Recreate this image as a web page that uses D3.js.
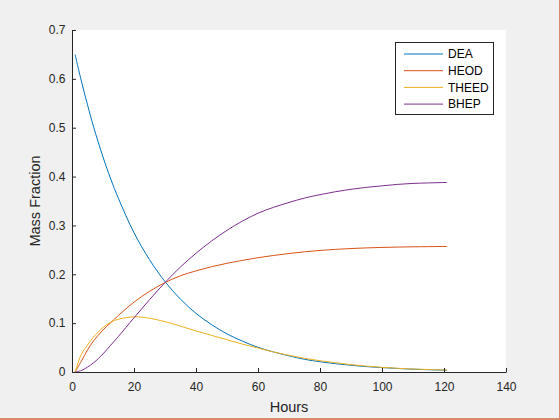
<!DOCTYPE html>
<html>
<head>
<meta charset="utf-8">
<script src="https://cdn.jsdelivr.net/npm/d3@7"></script>
<style>
    body { margin: 0; background: #f0f0f0; }
    svg { display: block; font-family: "Liberation Sans", Arial, sans-serif; }
</style>
</head>
<body>
<div id="svg-container"></div>
<script>
const w = 560;
const h = 420;
const margin = { top: 30, right: 54, bottom: 48, left: 72 };

const hours = [1, 3, 5, 7, 10, 12.5, 15, 20, 25, 30, 35, 40, 45, 50, 55, 60, 65, 70, 75, 80, 85, 90, 95, 100, 105, 110, 115, 121];
const dea   = [0.650, 0.596, 0.547, 0.501, 0.440, 0.395, 0.355, 0.285, 0.230, 0.185, 0.149, 0.120, 0.097, 0.078, 0.063, 0.0505, 0.041, 0.033, 0.026, 0.021, 0.017, 0.0138, 0.011, 0.009, 0.0072, 0.0058, 0.0047, 0.0036];
const heod  = [0, 0.022, 0.045, 0.064, 0.086, 0.101, 0.116, 0.143, 0.165, 0.183, 0.197, 0.207, 0.2155, 0.2225, 0.2285, 0.234, 0.2385, 0.2425, 0.246, 0.2488, 0.251, 0.2527, 0.254, 0.255, 0.2557, 0.2562, 0.2566, 0.257];
const theed = [0, 0.036, 0.055, 0.072, 0.091, 0.102, 0.108, 0.113, 0.110, 0.103, 0.094, 0.084, 0.075, 0.066, 0.057, 0.049, 0.041, 0.034, 0.028, 0.023, 0.019, 0.015, 0.012, 0.0095, 0.0076, 0.0061, 0.005, 0.004];
const bhep  = [0, 0.003, 0.010, 0.019, 0.037, 0.055, 0.073, 0.111, 0.148, 0.183, 0.215, 0.243, 0.268, 0.290, 0.309, 0.325, 0.337, 0.347, 0.356, 0.363, 0.369, 0.374, 0.378, 0.381, 0.384, 0.386, 0.387, 0.388];

const seriesNames = ["DEA", "HEOD", "THEED", "BHEP"];
const seriesColors = ["#0072bd", "#d95319", "#edb120", "#7e2f8e"];
const xTicks = [0, 20, 40, 60, 80, 100, 120, 140];
const yTicks = [0, 0.1, 0.2, 0.3, 0.4, 0.5, 0.6, 0.7];

const allSeries = [dea, heod, theed, bhep];

const svg = d3.select("#svg-container")
    .append("svg")
    .attr("width", w)
    .attr("height", h);

svg.append("rect")
    .attr("width", w).attr("height", h)
    .attr("fill", "#f0f0f0");

const x = d3.scaleLinear().domain([0, 140]).range([margin.left, w - margin.right]);
const y = d3.scaleLinear().domain([0, 0.7]).range([h - margin.bottom, margin.top]);

// white plot area
svg.append("rect")
    .attr("x", x(0)).attr("y", y(0.7))
    .attr("width", x(140) - x(0))
    .attr("height", y(0) - y(0.7))
    .attr("fill", "white");

// curves
const line = d3.line()
    .x(function (d) { return x(d[0]); })
    .y(function (d) { return y(d[1]); })
    .curve(d3.curveCatmullRom.alpha(0.5));

allSeries.forEach(function (vals, i) {
    svg.append("path")
        .datum(hours.map(function (t, j) { return [t, vals[j]]; }))
        .attr("d", line)
        .attr("fill", "none")
        .attr("stroke", seriesColors[i])
        .attr("stroke-width", 1);
});

// axes (ticks point inward)
const xAxis = svg.append("g")
    .attr("transform", "translate(0," + y(0) + ")")
    .call(d3.axisBottom(x).tickValues(xTicks).tickSize(-4).tickSizeOuter(0).tickPadding(10.5));

const yAxis = svg.append("g")
    .attr("transform", "translate(" + x(0) + ",0)")
    .call(d3.axisLeft(y).tickValues(yTicks).tickFormat(d3.format("~g")).tickSize(-4).tickSizeOuter(0).tickPadding(6.5));

[xAxis, yAxis].forEach(function (g) {
    g.selectAll("path, line").attr("stroke", "#262626");
    g.selectAll("text")
        .attr("fill", "#262626")
        .attr("font-size", "12px")
        .attr("font-family", "Liberation Sans, Arial, sans-serif");
});

// axis titles
svg.append("text")
    .attr("x", (x(0) + x(140)) / 2)
    .attr("y", 412)
    .attr("text-anchor", "middle")
    .attr("font-size", "14.5px")
    .attr("fill", "#262626")
    .text("Hours");

svg.append("text")
    .attr("transform", "translate(40," + (y(0) + y(0.7)) / 2 + ") rotate(-90)")
    .attr("text-anchor", "middle")
    .attr("font-size", "14.5px")
    .attr("fill", "#262626")
    .text("Mass Fraction");

// legend
const legend = svg.append("g");
legend.append("rect")
    .attr("x", 395.5).attr("y", 42.5)
    .attr("width", 98).attr("height", 72)
    .attr("fill", "white")
    .attr("stroke", "#262626")
    .attr("stroke-width", 1);

seriesNames.forEach(function (name, i) {
    const ly = 54 + i * 16.7;
    legend.append("line")
        .attr("x1", 404).attr("x2", 443)
        .attr("y1", ly).attr("y2", ly)
        .attr("stroke", seriesColors[i]);
    legend.append("text")
        .attr("x", 448).attr("y", ly + 4.3)
        .attr("font-size", "12px")
        .attr("fill", "#000")
        .text(name);
});

// window border
svg.append("rect").attr("x", 0).attr("y", 418).attr("width", w).attr("height", 2).attr("fill", "#d98a6a");
svg.append("rect").attr("x", 559).attr("y", 0).attr("width", 1).attr("height", h).attr("fill", "#d98a6a");
</script>
</body>
</html>
